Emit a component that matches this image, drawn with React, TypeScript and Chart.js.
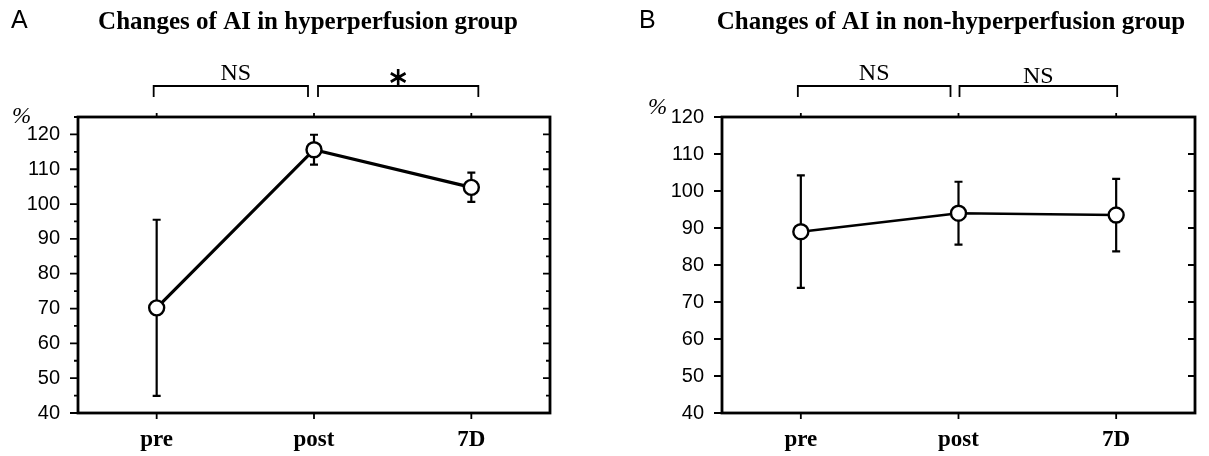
import React, { useEffect, useRef } from 'react';
import { Chart, registerables } from 'chart.js';

Chart.register(...registerables);

// ---------- data ----------
const categories = ['pre', 'post', '7D'];

const hyperMean = [70.2, 115.6, 104.8];
const hyperSD = [25.3, 4.3, 4.2];

const nonHyperMean = [89, 94, 93.5];
const nonHyperSD = [15.2, 8.5, 9.8];

const hyperYMin = 40;
const hyperYMax = 125;
const nonHyperYMin = 40;
const nonHyperYMax = 120;
const yStep = 10;

const hyperTitle = 'Changes of AI in hyperperfusion group';
const nonHyperTitle = 'Changes of AI in non-hyperperfusion group';
const hyperBrackets = ['NS', '*'];
const nonHyperBrackets = ['NS', 'NS'];

// ---------- decoration plugin ----------
const decorPlugin = {
  id: 'decor',
  beforeDatasetsDraw(chart: any, _args: any, opts: any) {
    const ctx = chart.ctx;
    const xs = chart.scales.x;
    const ys = chart.scales.y;
    const means = chart.data.datasets[0].data as number[];
    const sd = opts.sd as number[];
    ctx.save();
    ctx.strokeStyle = '#000';
    ctx.lineWidth = opts.errWidth;
    ctx.lineCap = 'butt';
    means.forEach((m, i) => {
      const px = xs.getPixelForValue(i);
      const lo = ys.getPixelForValue(m - sd[i]);
      const hi = ys.getPixelForValue(m + sd[i]);
      ctx.beginPath();
      ctx.moveTo(px, lo);
      ctx.lineTo(px, hi);
      ctx.moveTo(px - opts.cap, lo);
      ctx.lineTo(px + opts.cap, lo);
      ctx.moveTo(px - opts.cap, hi);
      ctx.lineTo(px + opts.cap, hi);
      ctx.stroke();
    });
    ctx.restore();
  },
  afterDraw(chart: any, _args: any, opts: any) {
    const ctx = chart.ctx;
    const area = chart.chartArea;
    const xs = chart.scales.x;
    const ys = chart.scales.y;
    ctx.save();
    ctx.strokeStyle = '#000';
    ctx.fillStyle = '#000';

    // frame
    ctx.lineWidth = opts.frameWidth;
    ctx.strokeRect(area.left, area.top, area.right - area.left, area.bottom - area.top);

    // y ticks
    ctx.lineWidth = 1.8;
    ctx.beginPath();
    ys.ticks.forEach((t: any) => {
      const py = ys.getPixelForValue(t.value);
      ctx.moveTo(area.left - 8, py);
      ctx.lineTo(area.left, py);
      ctx.moveTo(area.right, py);
      ctx.lineTo(area.right - 7, py);
    });
    if (opts.minor) {
      for (let v = ys.min + yStep / 2; v <= ys.max; v += yStep) {
        const py = ys.getPixelForValue(v);
        ctx.moveTo(area.left - 4, py);
        ctx.lineTo(area.left, py);
        ctx.moveTo(area.right, py);
        ctx.lineTo(area.right - 4, py);
      }
    }
    // x ticks top & bottom
    categories.forEach((_c, i) => {
      const px = xs.getPixelForValue(i);
      ctx.moveTo(px, area.top);
      ctx.lineTo(px, area.top - 4);
      ctx.moveTo(px, area.bottom);
      ctx.lineTo(px, area.bottom + 6);
    });
    ctx.stroke();

    // letter
    ctx.textAlign = 'left';
    ctx.textBaseline = 'alphabetic';
    ctx.font = '25px "Liberation Sans"';
    ctx.fillText(opts.letter, opts.letterX, 28);

    // title
    ctx.textAlign = 'center';
    ctx.font = 'bold 25px "Liberation Serif"';
    ctx.fillText(opts.title, opts.titleX, 29);

    // percent sign
    ctx.textAlign = 'left';
    ctx.font = 'italic 23px "Liberation Serif"';
    ctx.fillText('%', opts.pctX, opts.pctY);

    // brackets
    const p0 = xs.getPixelForValue(0);
    const p1 = xs.getPixelForValue(1);
    const p2 = xs.getPixelForValue(2);
    const br = [
      { a: p0 + opts.b1[0], b: p1 + opts.b1[1], label: opts.brackets[0], dy: 0 },
      { a: p1 + opts.b2[0], b: p2 + opts.b2[1], label: opts.brackets[1], dy: opts.b2dy },
    ];
    ctx.lineWidth = 1.8;
    br.forEach((b) => {
      const yTop = 86;
      const yBot = 97;
      ctx.beginPath();
      ctx.moveTo(b.a, yBot);
      ctx.lineTo(b.a, yTop);
      ctx.lineTo(b.b, yTop);
      ctx.lineTo(b.b, yBot);
      ctx.stroke();
      const cx = (b.a + b.b) / 2;
      if (b.label === '*') {
        const cy = 77.5;
        const r = 8.5;
        ctx.lineWidth = 2.6;
        ctx.beginPath();
        for (let k = 0; k < 3; k++) {
          const ang = Math.PI / 2 + (k * Math.PI) / 3;
          ctx.moveTo(cx - r * Math.cos(ang), cy - r * Math.sin(ang));
          ctx.lineTo(cx + r * Math.cos(ang), cy + r * Math.sin(ang));
        }
        ctx.stroke();
        ctx.lineWidth = 1.8;
      } else {
        ctx.textAlign = 'center';
        ctx.font = '24px "Liberation Serif"';
        ctx.fillText(b.label, cx + opts.labelDx, 80 + b.dy);
      }
    });

    ctx.restore();
  },
};

function makeChart(
  canvas: HTMLCanvasElement,
  means: number[],
  sd: number[],
  yMin: number,
  yMax: number,
  layout: { leftW: number; rightPad: number },
  decor: any,
  lineWidth: number
) {
  return new Chart(canvas, {
    type: 'line',
    data: {
      labels: categories,
      datasets: [
        {
          data: means,
          borderColor: '#000',
          borderWidth: lineWidth,
          pointRadius: 7.5,
          pointBorderWidth: 2.4,
          pointBackgroundColor: '#fff',
          pointBorderColor: '#000',
          tension: 0,
          clip: false,
        } as any,
      ],
    },
    options: {
      responsive: false,
      animation: false,
      devicePixelRatio: 1,
      layout: { padding: { left: 0, right: layout.rightPad, top: 117, bottom: 0 } },
      plugins: {
        legend: { display: false },
        tooltip: { enabled: false },
        decor: { ...decor, sd },
      } as any,
      scales: {
        x: {
          type: 'category',
          offset: true,
          grid: { display: false, drawTicks: false },
          border: { display: false },
          ticks: {
            color: '#000',
            font: { family: 'Liberation Serif', size: 23, weight: 'bold' },
            padding: 13,
            maxRotation: 0,
            autoSkip: false,
          },
          afterFit: (s: any) => {
            s.height = 43;
          },
        },
        y: {
          type: 'linear',
          min: yMin,
          max: yMax,
          grid: { display: false, drawTicks: false },
          border: { display: false },
          ticks: {
            stepSize: yStep,
            includeBounds: false,
            color: '#000',
            font: { family: 'Liberation Sans', size: 20 },
            padding: 18,
          },
          afterFit: (s: any) => {
            s.width = layout.leftW;
          },
        },
      },
    },
    plugins: [decorPlugin],
  });
}

export default function App() {
  const refA = useRef<HTMLCanvasElement>(null);
  const refB = useRef<HTMLCanvasElement>(null);

  useEffect(() => {
    const a = makeChart(
      refA.current!,
      hyperMean,
      hyperSD,
      hyperYMin,
      hyperYMax,
      { leftW: 78, rightPad: 50 },
      {
        letter: 'A',
        letterX: 11,
        title: hyperTitle,
        titleX: 308,
        pctX: 12,
        pctY: 123,
        minor: true,
        frameWidth: 2.8,
        errWidth: 2.2,
        cap: 4,
        brackets: hyperBrackets,
        b1: [-3, -6],
        b2: [4, 7],
        b2dy: 0,
        labelDx: 5,
      },
      3.2
    );
    const b = makeChart(
      refB.current!,
      nonHyperMean,
      nonHyperSD,
      nonHyperYMin,
      nonHyperYMax,
      { leftW: 122, rightPad: 14 },
      {
        letter: 'B',
        letterX: 39,
        title: nonHyperTitle,
        titleX: 351,
        pctX: 48,
        pctY: 114,
        minor: false,
        frameWidth: 2.8,
        errWidth: 2.2,
        cap: 4,
        brackets: nonHyperBrackets,
        b1: [-3, -8],
        b2: [1, 1],
        b2dy: 3,
        labelDx: 0,
      },
      2.6
    );
    return () => {
      a.destroy();
      b.destroy();
    };
  }, []);

  return (
    <div style={{ position: 'absolute', left: 0, top: 0, width: 1209, height: 456, background: '#fff' }}>
      <canvas ref={refA} width={600} height={456} style={{ position: 'absolute', left: 0, top: 0, width: 600, height: 456 }} />
      <canvas ref={refB} width={609} height={456} style={{ position: 'absolute', left: 600, top: 0, width: 609, height: 456 }} />
    </div>
  );
}
